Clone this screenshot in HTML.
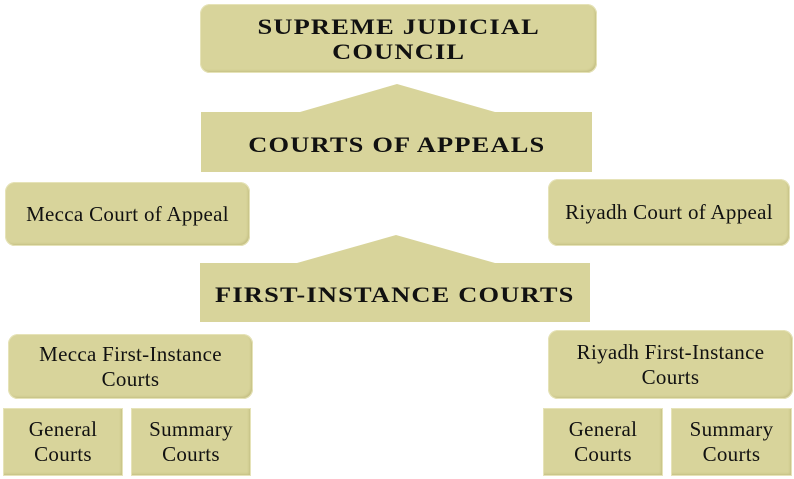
<!DOCTYPE html>
<html><head><style>
body{margin:0;width:794px;height:479px;background:#fff;position:relative;overflow:hidden;font-family:"Liberation Serif",serif;}
.b{position:absolute;background:#d8d49b;box-shadow:inset 0 0 0 1px #e6e3b8,inset -2px -2px 2px #c4bf83;display:flex;align-items:center;justify-content:center;text-align:center;color:#111;font-size:21px;line-height:25px;letter-spacing:0.3px;box-sizing:border-box;}
.r{border-radius:10px;}
.h{font-weight:bold;text-transform:uppercase;letter-spacing:1px;font-size:22px;line-height:25px;}
.h span{display:inline-block;transform:scaleX(1.2);}
svg{position:absolute;left:0;top:0;}
</style></head><body>
<svg width="794" height="479">
<polygon points="201,112 300,112 397,84 495,112 592,112 592,172 201,172" fill="#d8d49b"/>
<polygon points="200,263 297,263 396,235 495,263 590,263 590,322 200,322" fill="#d8d49b"/>
</svg>
<div class="b r h" style="left:200px;top:4px;width:397px;height:69px;"><span>Supreme Judicial<br>Council</span></div>
<div class="b h" style="left:201px;top:124px;width:391px;height:40px;background:transparent;box-shadow:none;"><span>Courts of Appeals</span></div>
<div class="b h" style="left:200px;top:274px;width:390px;height:40px;background:transparent;box-shadow:none;"><span>First-Instance Courts</span></div>
<div class="b r" style="left:5px;top:182px;width:245px;height:64px;">Mecca Court of Appeal</div>
<div class="b r" style="left:548px;top:179px;width:242px;height:67px;">Riyadh Court of Appeal</div>
<div class="b r" style="left:8px;top:334px;width:245px;height:65px;">Mecca First-Instance<br>Courts</div>
<div class="b r" style="left:548px;top:330px;width:245px;height:69px;">Riyadh First-Instance<br>Courts</div>
<div class="b" style="left:3px;top:408px;width:120px;height:68px;">General<br>Courts</div>
<div class="b" style="left:131px;top:408px;width:120px;height:68px;">Summary<br>Courts</div>
<div class="b" style="left:543px;top:408px;width:120px;height:68px;">General<br>Courts</div>
<div class="b" style="left:671px;top:408px;width:121px;height:68px;">Summary<br>Courts</div>
</body></html>
